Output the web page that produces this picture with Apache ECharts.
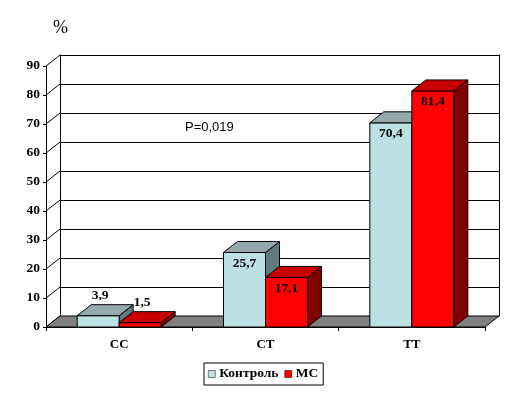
<!DOCTYPE html>
<html>
<head>
<meta charset="utf-8">
<script src="https://cdn.jsdelivr.net/npm/echarts@6/dist/echarts.min.js"></script>
<style>html,body{margin:0;padding:0;background:#fff}#c{width:508px;height:394px}</style>
</head>
<body>
<div id="c"></div>
<script>
var categories = ['CC', 'CT', 'TT'];
var seriesNames = ['Контроль', 'МС'];
var controlValues = [3.9, 25.7, 70.4];
var msValues = [1.5, 17.1, 81.4];
var labelTexts = { control: ['3,9', '25,7', '70,4'], ms: ['1,5', '17,1', '81,4'] };
var yTicks = [0, 10, 20, 30, 40, 50, 60, 70, 80, 90];
var annotation = 'P=0,019';
var unitLabel = '%';

var DX = 14, DY = -11;   // 3D depth offset (style)
var BAR_FRAC = 0.287;    // bar width as fraction of category band
var SERIF = '"Liberation Serif", "Times New Roman", serif';

var faces = {
  control: { front: '#bde0e3', top: '#93a9ab', side: '#62797b' },
  ms: { front: '#ff0000', top: '#c80000', side: '#800000' }
};

function barRender(key, sideSign) {
  return function (params, api) {
    var cat = api.value(0), v = api.value(1);
    var c = api.coord([cat, v]);
    var b = api.coord([cat, 0]);
    var bw = api.size([1, 0])[0];
    var w = bw * BAR_FRAC;
    var x0 = sideSign < 0 ? c[0] - w : c[0];
    var top = c[1], base = b[1];
    var f = faces[key];
    var st = { stroke: '#000', lineWidth: 1 };
    var lbl = labelTexts[key][params.dataIndex];
    var ly = v < 10 ? top - 20 : top + 11;
    return {
      type: 'group',
      children: [
        { type: 'polygon', shape: { points: [[x0 + w, top], [x0 + w + DX, top + DY], [x0 + w + DX, base + DY], [x0 + w, base]] },
          style: Object.assign({ fill: f.side }, st) },
        { type: 'rect', shape: { x: x0, y: top, width: w, height: base - top },
          style: Object.assign({ fill: f.front }, st) },
        { type: 'polygon', shape: { points: [[x0, top], [x0 + w, top], [x0 + w + DX, top + DY], [x0 + DX, top + DY]] },
          style: Object.assign({ fill: f.top }, st) },
        { type: 'text', x: x0 + w / 2 + (v < 10 ? 2 : 0), y: ly,
          style: { text: lbl, fill: '#000', font: 'bold 13.5px ' + SERIF, align: 'center', verticalAlign: 'middle' } }
      ]
    };
  };
}

var chart = echarts.init(document.getElementById('c'), null, { renderer: 'canvas' });
chart.setOption({
  animation: false,
  backgroundColor: '#fff',
  grid: [
    { left: 46, right: 23, top: 66, bottom: 67 },
    { left: 60, right: 9, top: 55, bottom: 78 }
  ],
  xAxis: [
    { type: 'category', gridIndex: 0, data: categories, boundaryGap: true,
      axisLine: { show: true, lineStyle: { color: '#000', width: 1 } },
      axisTick: { show: true, length: 4, lineStyle: { color: '#000' } },
      axisLabel: { color: '#000', fontFamily: SERIF, fontWeight: 'bold', fontSize: 13, margin: 11 },
      splitLine: { show: false }, z: 5 },
    { type: 'value', gridIndex: 1, min: 0, max: 1, show: false }
  ],
  yAxis: [
    { type: 'value', gridIndex: 0, min: 0, max: 90, interval: 10,
      axisLine: { show: true, lineStyle: { color: '#000', width: 1 } },
      axisTick: { show: true, length: 3, lineStyle: { color: '#000' } },
      axisLabel: { color: '#000', fontFamily: SERIF, fontWeight: 'bold', fontSize: 13.5, margin: 6 },
      splitLine: { show: false }, z: 5 },
    { type: 'value', gridIndex: 1, min: 0, max: 90, interval: 10,
      axisLine: { show: true, lineStyle: { color: '#000', width: 1 } },
      axisTick: { show: false }, axisLabel: { show: false },
      splitLine: { show: true, lineStyle: { color: '#000', width: 1 } } },
    { type: 'value', gridIndex: 1, min: 0, max: 90, interval: 10, position: 'right',
      axisLine: { show: true, lineStyle: { color: '#000', width: 1 } },
      axisTick: { show: false }, axisLabel: { show: false }, splitLine: { show: false } }
  ],
  legend: {
    left: 204, top: 363, orient: 'horizontal',
    data: seriesNames,
    icon: 'rect', itemWidth: 7, itemHeight: 7, itemGap: 6,
    padding: [4, 5, 4, 4],
    borderColor: '#000', borderWidth: 1,
    textStyle: { color: '#000', fontFamily: SERIF, fontWeight: 'bold', fontSize: 13.5, padding: [0, 0, 0, -1] },
    itemStyle: { borderColor: '#000', borderWidth: 0.5 }
  },
  graphic: [
    { type: 'text', left: 53, top: 19, style: { text: unitLabel, font: '18px ' + SERIF, fill: '#000' } },
    { type: 'text', left: 185, top: 121, style: { text: annotation, font: '13px "Liberation Sans", Arial, sans-serif', fill: '#000' } }
  ],
  series: [
    { type: 'custom', name: 'wallDiag', xAxisIndex: 0, yAxisIndex: 0, silent: true, z: 3,
      data: yTicks.map(function (t) { return [0, t]; }),
      renderItem: function (params, api) {
        var p = api.coord([0, api.value(1)]);
        var bw = api.size([1, 0])[0];
        var x = p[0] - bw / 2;
        return { type: 'line', shape: { x1: x, y1: p[1], x2: x + DX, y2: p[1] + DY },
          style: { stroke: '#000', lineWidth: 1 } };
      } },
    { type: 'custom', name: 'floor', xAxisIndex: 0, yAxisIndex: 0, silent: true, z: 3,
      data: [[0, 0]],
      renderItem: function (params, api) {
        var bw = api.size([1, 0])[0];
        var pL = api.coord([0, 0]);
        var pR = api.coord([categories.length - 1, 0]);
        var xl = pL[0] - bw / 2, xr = pR[0] + bw / 2, y = pL[1];
        return { type: 'polygon', shape: { points: [[xl, y], [xr, y], [xr + DX, y + DY], [xl + DX, y + DY]] },
          style: { fill: '#808080', stroke: '#000', lineWidth: 1 } };
      } },
    { type: 'custom', name: seriesNames[0], xAxisIndex: 0, yAxisIndex: 0, z: 4,
      itemStyle: { color: faces.control.front },
      data: controlValues.map(function (v, i) { return [i, v]; }),
      renderItem: barRender('control', -1) },
    { type: 'custom', name: seriesNames[1], xAxisIndex: 0, yAxisIndex: 0, z: 4,
      itemStyle: { color: faces.ms.front },
      data: msValues.map(function (v, i) { return [i, v]; }),
      renderItem: barRender('ms', 1) }
  ]
});
</script>
</body>
</html>
